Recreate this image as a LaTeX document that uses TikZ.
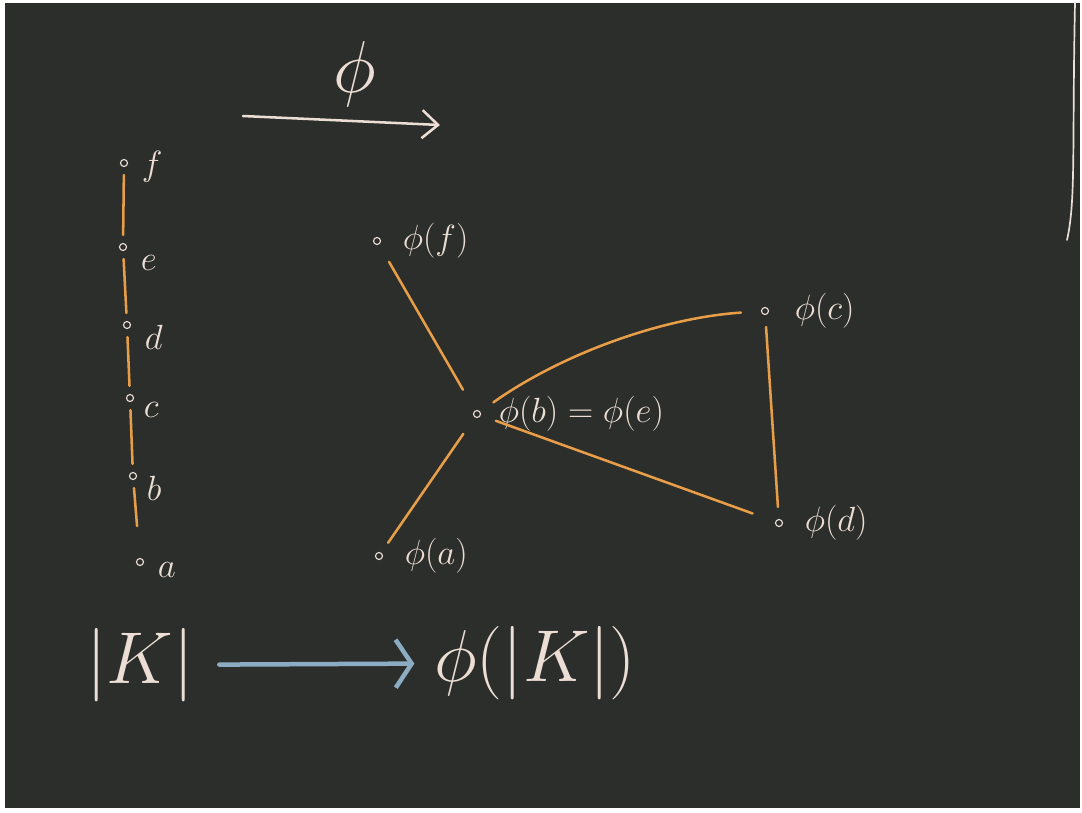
\documentclass[tikz,border=0pt]{standalone}
\usepackage{amsmath}
\usepackage{graphicx}
\usepackage{tikz}
\usetikzlibrary{arrows.meta,calc,positioning}
\definecolor{board}{RGB}{43,46,43}
\definecolor{chalk}{RGB}{236,222,212}
\definecolor{chalkorange}{RGB}{232,158,72}
\definecolor{chalkblue}{RGB}{140,172,196}
\newcommand{\bigchalk}[1]{\scalebox{2.1}{\fontsize{24.88}{30}\selectfont #1}}

\begin{document}
\begin{tikzpicture}[x=0.25mm,y=-0.25mm,
    pt/.style={circle,draw=chalk,fill=board,inner sep=0pt,minimum size=5pt,line width=0.8pt},
    lbl/.style={text=chalk,inner sep=1pt,font=\fontsize{24.88}{28}\selectfont},
    big/.style={text=chalk,inner sep=1pt},
    edge/.style={chalkorange,line width=1.8pt,line cap=round,shorten <=2mm,shorten >=2mm}]
      % Board
      \fill[white] (0,0) rectangle (1082,813);
      \fill[board] (5,3) rectangle (1080,808);
      \useasboundingbox (0,0) rectangle (1082,813);
      % The map phi
      \node[big] (phi) at (355,74) {\bigchalk{$\phi$}};
      \coordinate (m0) at (243,116);
      \coordinate (m1) at (440,125);
      \draw[chalk, line width=1.8pt, line cap=round, line join=round,
            -{Straight Barb[length=4mm,width=7mm]}] (m0) -- (m1);
      % The complex K, as a path
      \node[pt] (f) at (124,163) {};
      \node[pt] (e) at (123,247) {};
      \node[pt] (d) at (127,325) {};
      \node[pt] (c) at (130,398) {};
      \node[pt] (b) at (133,476) {};
      \node[pt] (a) at (140,562) {};
      \node[lbl, right=3mm of f, yshift=-1mm] (fl) {$f$};
      \node[lbl, right=3mm of e, yshift=-4mm] (el) {$e$};
      \node[lbl, right=3mm of d, yshift=-3mm] (dl) {$d$};
      \node[lbl, right=2mm of c, yshift=-3mm] (cl) {$c$};
      \node[lbl, right=2mm of b, yshift=-3mm] (bl) {$b$};
      \node[lbl, right=3mm of a, yshift=-2mm] (al) {$a$};
      \draw[edge] (f) -- (e);
      \draw[edge] (e) -- (d);
      \draw[edge] (d) -- (c);
      \draw[edge] (c) -- (b);
      \draw[edge, shorten >=8mm] (b) -- (a);
      % Its image
      \node[pt] (pf) at (377,241) {};
      \node[pt] (pb) at (477,414) {};
      \node[pt] (pc) at (765,311) {};
      \node[pt] (pd) at (779,523) {};
      \node[pt] (pa) at (379,556) {};
      \node[lbl, right=5mm of pf] (pfl) {$\phi(f)$};
      \node[lbl, right=4mm of pb] (pbl) {$\phi(b)=\phi(e)$};
      \node[lbl, right=6mm of pc] (pcl) {$\phi(c)$};
      \node[lbl, right=5mm of pd] (pdl) {$\phi(d)$};
      \node[lbl, right=5mm of pa] (pal) {$\phi(a)$};
      \draw[edge, shorten <=5mm, shorten >=6mm] (pf) -- (pb);
      \draw[edge, shorten <=3mm, shorten >=5mm] (pa) -- (pb);
      \draw[edge, shorten <=4mm, shorten >=5mm] (pb) .. controls (560,355) and (660,318) .. (pc);
      \draw[edge, shorten <=4mm, shorten >=6mm] (pb) -- (pd);
      \draw[edge, shorten <=3mm, shorten >=3mm] (pc) -- (pd);
      % |K| and its image
      \node[big] (K) at (140,665) {\bigchalk{$|K|$}};
      \node[big] (phiK) at (535,663) {\bigchalk{$\phi(|K|)$}};
      \draw[chalkblue, line width=3.2pt, line cap=round, line join=round, shorten <=6mm, shorten >=4.5mm,
            -{Straight Barb[length=4mm,width=12mm]}] (K) -- (phiK);
      % chalk stroke at the right edge
      \draw[chalk, line width=1.2pt, line cap=round] (1075,3) .. controls (1072,150) and (1076,200) .. (1067,240);
    \end{tikzpicture}
\end{document}
